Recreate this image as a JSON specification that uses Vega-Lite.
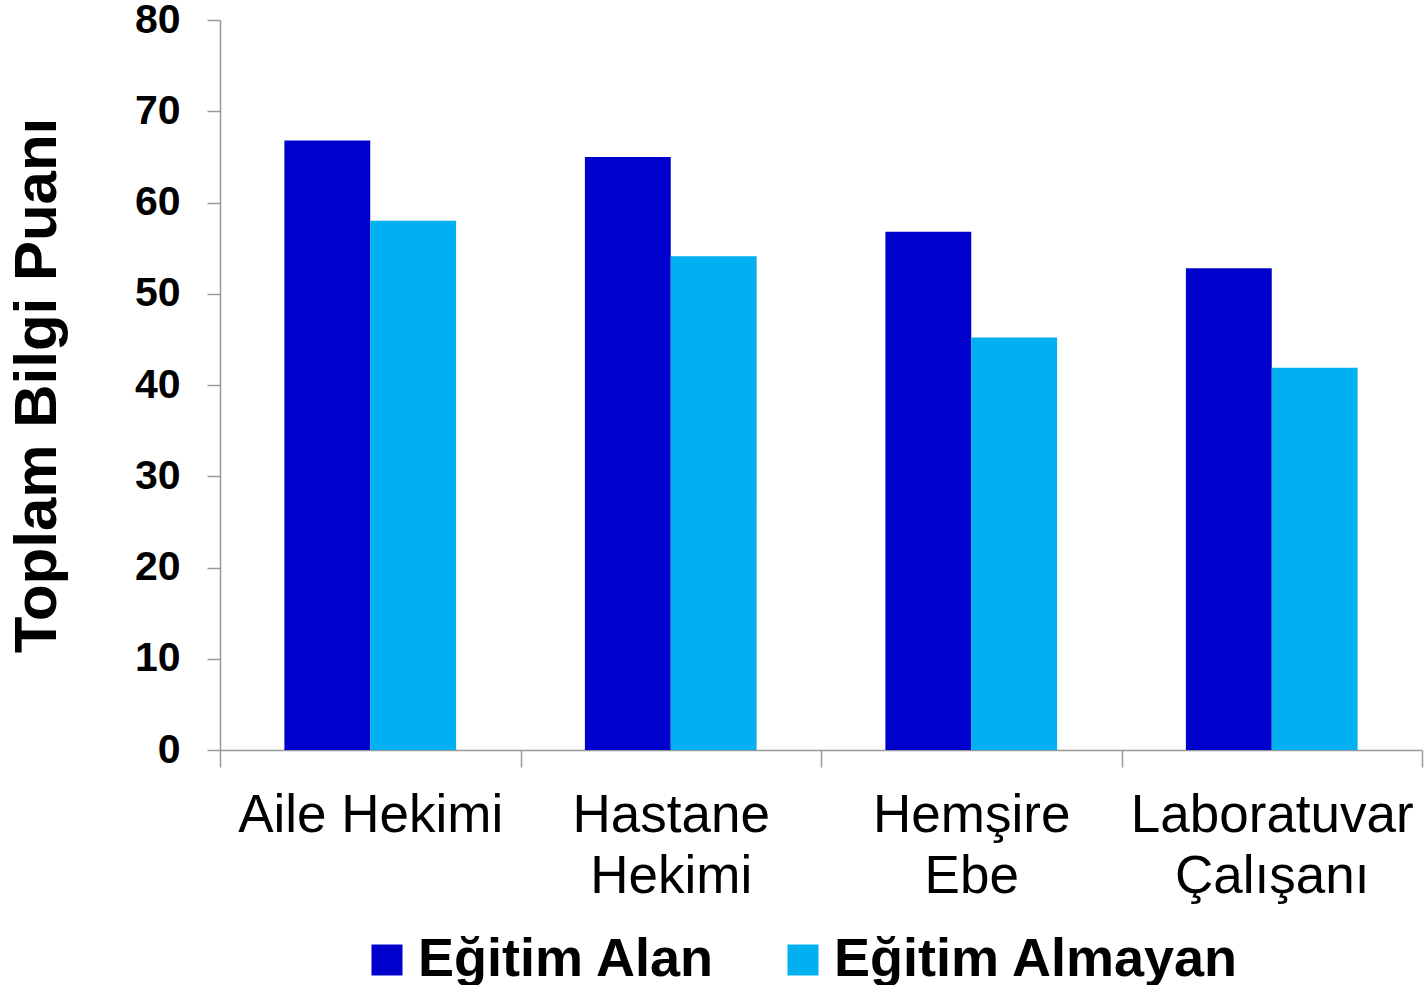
{
  "$schema": "https://vega.github.io/schema/vega-lite/v6.json",
  "width": 1202,
  "height": 730,
  "autosize": {"type": "none"},
  "padding": {"left": 220, "top": 20, "right": 2, "bottom": 235},
  "background": "white",
  "config": {
    "font": "Liberation Sans",
    "view": {"stroke": null}
  },
  "data": {
    "values": [
      {"meslek": "Aile Hekimi", "grup": "Eğitim Alan", "puan": 66.8},
      {"meslek": "Aile Hekimi", "grup": "Eğitim Almayan", "puan": 58.0},
      {"meslek": "Hastane Hekimi", "grup": "Eğitim Alan", "puan": 65.0},
      {"meslek": "Hastane Hekimi", "grup": "Eğitim Almayan", "puan": 54.1},
      {"meslek": "Hemşire Ebe", "grup": "Eğitim Alan", "puan": 56.8},
      {"meslek": "Hemşire Ebe", "grup": "Eğitim Almayan", "puan": 45.2},
      {"meslek": "Laboratuvar Çalışanı", "grup": "Eğitim Alan", "puan": 52.8},
      {"meslek": "Laboratuvar Çalışanı", "grup": "Eğitim Almayan", "puan": 41.9}
    ]
  },
  "mark": {"type": "bar"},
  "encoding": {
    "x": {
      "field": "meslek",
      "type": "nominal",
      "sort": null,
      "scale": {"paddingInner": 0, "paddingOuter": 0},
      "axis": {
        "title": null,
        "labelAngle": 0,
        "labelFontSize": 53,
        "labelColor": "black",
        "labelLineHeight": 61,
        "labelPadding": 22,
        "labelLimit": 0,
        "labelOverlap": false,
        "labelExpr": "datum.label == 'Aile Hekimi' ? datum.label : split(datum.label, ' ')",
        "tickBand": "extent",
        "tickSize": 17,
        "tickColor": "#999999",
        "tickWidth": 1.5,
        "domainColor": "#999999",
        "domainWidth": 1.5
      }
    },
    "xOffset": {
      "field": "grup",
      "type": "nominal",
      "sort": ["Eğitim Alan", "Eğitim Almayan"],
      "scale": {"paddingInner": 0, "paddingOuter": 0.75}
    },
    "y": {
      "field": "puan",
      "type": "quantitative",
      "scale": {"domain": [0, 80]},
      "axis": {
        "title": "Toplam Bilgi Puanı",
        "titleFontSize": 60,
        "titleFontWeight": "bold",
        "titleColor": "black",
        "titlePadding": 66,
        "values": [0, 10, 20, 30, 40, 50, 60, 70, 80],
        "grid": false,
        "labelFontSize": 41,
        "labelFontWeight": "bold",
        "labelColor": "black",
        "labelPadding": 27,
        "tickSize": 13,
        "tickColor": "#999999",
        "tickWidth": 1.5,
        "domainColor": "#999999",
        "domainWidth": 1.5
      }
    },
    "color": {
      "field": "grup",
      "type": "nominal",
      "sort": ["Eğitim Alan", "Eğitim Almayan"],
      "scale": {"domain": ["Eğitim Alan", "Eğitim Almayan"], "range": ["#0000CC", "#00B0F0"]},
      "legend": {
        "title": null,
        "orient": "none",
        "direction": "horizontal",
        "legendX": 140,
        "legendY": 913,
        "symbolType": "square",
        "symbolSize": 961,
        "symbolStrokeWidth": 0,
        "labelFontSize": 54,
        "labelFontWeight": "bold",
        "labelColor": "black",
        "labelOffset": 4,
        "columnPadding": 60,
        "labelLimit": 600
      }
    }
  }
}
